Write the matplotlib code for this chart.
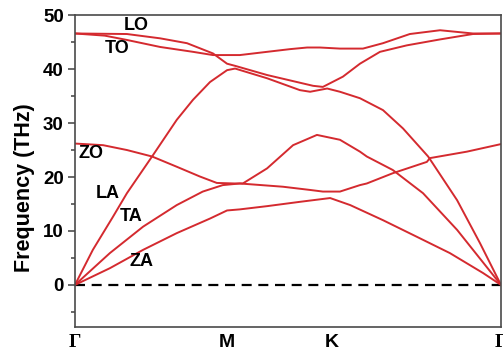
import matplotlib
matplotlib.use('Agg')
import matplotlib.pyplot as plt
from matplotlib.ticker import MultipleLocator

RED = '#d42a2f'

# high-symmetry points along the path
sym_labels = ['Γ', 'M', 'K', 'Γ']
sym_pos = [0.0, 0.357, 0.603, 1.0]

# phonon branches: (k, frequency THz)
to_k = [0.0, 0.070, 0.122, 0.200, 0.277, 0.324, 0.387, 0.451, 0.505, 0.545, 0.575, 0.622,
        0.676, 0.723, 0.786, 0.857, 0.934, 1.0]
to_f = [46.6, 46.2, 45.4, 44.1, 43.2, 42.6, 42.6, 43.2, 43.7, 44.0, 44.0, 43.8,
        43.8, 44.8, 46.5, 47.2, 46.6, 46.6]

lo_k = [0.0, 0.122, 0.200, 0.263, 0.324, 0.357, 0.376, 0.451, 0.559, 0.582, 0.629, 0.669,
        0.716, 0.779, 0.857, 0.934, 1.0]
lo_f = [46.6, 46.5, 45.7, 44.8, 42.9, 41.0, 40.6, 38.9, 36.9, 36.7, 38.6, 41.0,
        43.2, 44.4, 45.5, 46.5, 46.6]

la_k = [0.0, 0.042, 0.089, 0.122, 0.181, 0.239, 0.277, 0.317, 0.357, 0.376, 0.451, 0.528,
        0.552, 0.592, 0.622, 0.669, 0.723, 0.770, 0.829, 0.840, 0.897, 0.951, 1.0]
la_f = [0.0, 6.5, 12.6, 17.0, 23.8, 30.6, 34.3, 37.6, 39.8, 40.1, 38.3, 36.1,
        35.8, 36.4, 35.8, 34.6, 32.4, 29.0, 23.8, 22.5, 15.7, 7.7, 0.0]

zo_k = [0.0, 0.066, 0.122, 0.181, 0.239, 0.293, 0.333, 0.376, 0.394, 0.451, 0.512, 0.568,
        0.622, 0.669, 0.685, 0.746, 0.817, 0.897, 1.0]
zo_f = [26.2, 25.9, 25.0, 23.8, 21.9, 20.1, 18.9, 18.8, 18.8, 21.6, 25.9, 27.8,
        26.9, 24.7, 23.8, 21.3, 17.0, 10.2, 0.0]

ta_k = [0.0, 0.082, 0.160, 0.239, 0.300, 0.347, 0.387, 0.488, 0.552, 0.582, 0.622, 0.669,
        0.685, 0.746, 0.826, 0.833, 0.920, 1.0]
ta_f = [0.0, 5.9, 10.8, 14.8, 17.3, 18.5, 18.8, 18.2, 17.6, 17.3, 17.3, 18.5,
        18.8, 20.7, 22.8, 23.5, 24.7, 26.1]

za_k = [0.0, 0.082, 0.160, 0.239, 0.317, 0.357, 0.387, 0.451, 0.528, 0.599, 0.646, 0.723,
        0.803, 0.880, 0.958, 1.0]
za_f = [0.0, 3.1, 6.5, 9.6, 12.3, 13.8, 14.0, 14.6, 15.4, 16.1, 14.8, 12.0,
        8.9, 5.9, 2.2, 0.0]

branches = [(to_k, to_f), (lo_k, lo_f), (la_k, la_f), (zo_k, zo_f), (ta_k, ta_f), (za_k, za_f)]

# branch names and where they are written (k, THz)
mode_names = ['LO', 'TO', 'ZO', 'LA', 'TA', 'ZA']
mode_k = [0.143, 0.099, 0.038, 0.077, 0.131, 0.157]
mode_f = [48.1, 43.8, 24.4, 16.9, 12.6, 4.3]


def main():
    fig = plt.figure(figsize=(5.03, 3.52), dpi=100)
    ax = fig.add_axes([0.149, 0.071, 0.847, 0.886])

    for ks, fs in branches:
        ax.plot(ks, fs, color=RED, lw=1.4, solid_joinstyle='round')

    ax.axhline(0, color='black', lw=1.6, dashes=(4.5, 3), zorder=1)

    for name, k, f in zip(mode_names, mode_k, mode_f):
        ax.text(k, f, name, ha='center', va='center', fontsize=13,
                fontweight='bold', family='Liberation Sans')

    ax.set_xlim(0, 1)
    ax.set_ylim(-7.8, 50)
    ax.set_xticks(sym_pos)
    ax.set_xticklabels(sym_labels)
    for lab, name in zip(ax.get_xticklabels(), sym_labels):
        lab.set_fontweight('bold')
        lab.set_fontsize(14)
        lab.set_family('Liberation Serif' if name == 'Γ' else 'Liberation Sans')
    ax.tick_params(axis='x', length=0, pad=5)

    ax.yaxis.set_major_locator(MultipleLocator(10))
    ax.yaxis.set_minor_locator(MultipleLocator(5))
    ax.tick_params(axis='y', which='major', length=5, width=1.1, direction='out', pad=3,
                   labelsize=13.5, color='#404040')
    ax.tick_params(axis='y', which='minor', length=3, width=1.1, direction='out', color='#404040')
    for lab in ax.get_yticklabels():
        lab.set_fontweight('bold')
        lab.set_family('Liberation Sans')

    for sp in ax.spines.values():
        sp.set_color('#4a4a4a')
        sp.set_linewidth(1.2)

    fig.text(0.048, 0.467, 'Frequency (THz)', rotation=90, ha='center', va='center',
             fontsize=15.5, fontweight='bold', family='Liberation Sans')

    fig.savefig('out.png', dpi=100)


if __name__ == '__main__':
    main()
